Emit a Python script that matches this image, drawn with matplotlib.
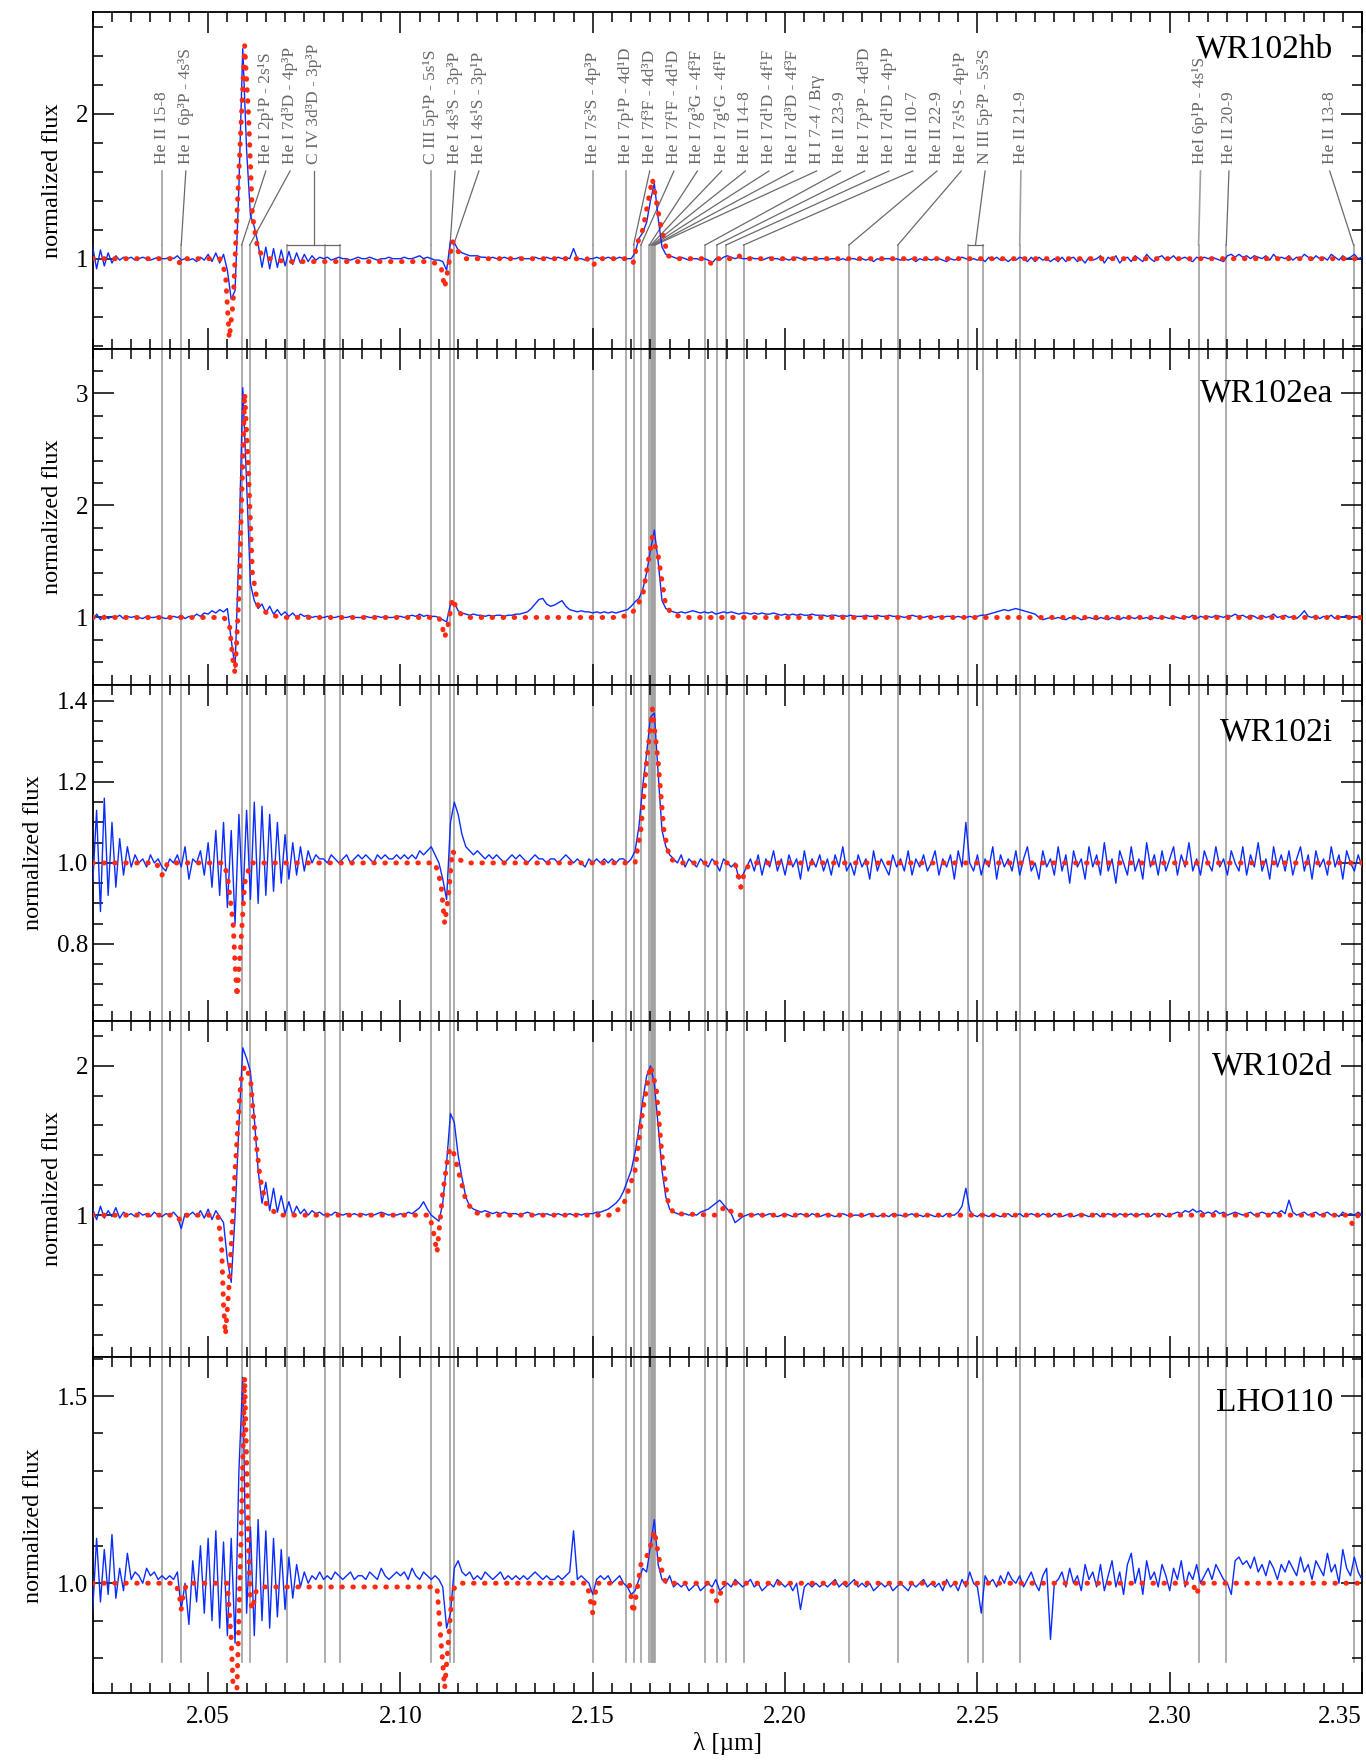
import numpy as np
import matplotlib
matplotlib.use('Agg')
import matplotlib.pyplot as plt
from matplotlib.ticker import MultipleLocator, FormatStrFormatter

plt.rcParams['font.family'] = ['Liberation Serif', 'DejaVu Serif']

# wavelength grid of the observed spectra (micron), 1 nm steps
WAVE = np.round(np.linspace(2.020, 2.350, 331), 3)

NAMES = ['WR102hb', 'WR102ea', 'WR102i', 'WR102d', 'LHO110']

# observed normalized flux (x100), one row per 0.01 micron
FLUX_HB = [
    108, 93, 106, 95, 104, 97, 102, 99, 101, 100,
    101, 99, 100, 101, 100, 99, 100, 101, 100, 100,
    101, 100, 102, 99, 100, 99, 100, 98, 101, 99,
    103, 98, 104, 97, 103, 92, 72, 78, 150, 245,
    175, 130, 122, 110, 94, 108, 93, 107, 94, 106,
    95, 105, 96, 104, 97, 103, 98, 102, 99, 101,
    100, 101, 99, 100, 101, 100, 100, 99, 100, 101,
    100, 100, 101, 100, 99, 100, 100, 101, 100, 100,
    100, 101, 100, 100, 101, 102, 100, 101, 100, 99,
    99, 98, 92, 112, 111, 106, 104, 103, 102, 102,
    102, 101, 101, 100, 101, 100, 100, 101, 100, 100,
    100, 101, 100, 100, 100, 101, 100, 100, 101, 100,
    100, 101, 100, 101, 100, 107, 100, 100, 99, 100,
    100, 101, 100, 100, 101, 100, 100, 101, 100, 100,
    100, 104, 114, 118, 125, 140, 152, 128, 108, 103,
    102, 101, 100, 101, 100, 99, 100, 100, 99, 100,
    99, 97, 100, 99, 101, 102, 101, 100, 101, 100,
    100, 101, 100, 100, 99, 100, 101, 100, 100, 99,
    100, 99, 100, 101, 100, 99, 100, 100, 99, 100,
    100, 99, 100, 100, 99, 100, 99, 100, 100, 99,
    100, 99, 100, 98, 100, 99, 100, 100, 99, 100,
    99, 100, 99, 100, 98, 100, 99, 100, 99, 100,
    100, 99, 98, 100, 99, 100, 101, 100, 99, 100,
    99, 100, 98, 101, 99, 101, 99, 100, 98, 100,
    99, 101, 100, 98, 101, 98, 101, 99, 100, 98,
    100, 98, 101, 98, 100, 101, 98, 100, 97, 101,
    99, 100, 102, 97, 101, 99, 102, 97, 100, 101,
    98, 102, 100, 98, 103, 100, 98, 101, 102, 99,
    100, 102, 99, 100, 101, 99, 98, 101, 100, 101,
    100, 101, 100, 99, 98, 102, 103, 101, 103, 101,
    102, 100, 102, 101, 100, 102, 99, 103, 100, 101,
    100, 102, 99, 101, 100, 103, 101, 99, 102, 100,
    101, 99, 103, 101, 99, 102, 100, 101, 103, 100,
    101]

FLUX_EA = [
    97, 103, 98, 102, 99, 101, 100, 102, 99, 101,
    100, 101, 100, 99, 101, 100, 100, 101, 100, 99,
    100, 101, 100, 102, 99, 101, 100, 103, 101, 104,
    103, 106, 104, 107, 105, 108, 80, 55, 160, 305,
    220, 130, 115, 108, 112, 104, 110, 103, 107, 102,
    105, 101, 104, 100, 103, 101, 102, 100, 101, 100,
    100, 101, 100, 100, 101, 100, 100, 101, 100, 100,
    100, 101, 100, 100, 101, 100, 101, 100, 100, 101,
    101, 100, 101, 102, 101, 103, 101, 102, 101, 101,
    100, 98, 96, 112, 113, 106, 104, 103, 102, 103,
    102, 102, 101, 102, 101, 102, 102, 101, 102, 102,
    103, 103, 104, 105, 108, 112, 116, 117, 112, 110,
    111, 113, 115, 110, 107, 106, 105, 106, 105, 105,
    104, 105, 104, 105, 104, 105, 104, 105, 106, 107,
    110, 114, 117, 125, 140, 160, 178, 150, 115, 108,
    106, 105, 104, 105, 104, 105, 106, 105, 104, 105,
    104, 105, 103, 104, 105, 104, 105, 104, 103, 104,
    104, 103, 104, 103, 104, 103, 103, 104, 103, 102,
    103, 102, 103, 102, 103, 102, 102, 103, 102, 102,
    102, 101, 102, 102, 101, 102, 101, 102, 101, 101,
    101, 102, 101, 101, 102, 101, 101, 102, 101, 101,
    101, 100, 101, 102, 101, 101, 100, 101, 101, 100,
    101, 100, 101, 101, 100, 101, 100, 100, 101, 100,
    101, 102, 102, 103, 104, 105, 106, 107, 106, 107,
    108, 107, 106, 105, 104, 103, 100, 98, 99, 100,
    99, 100, 99, 98, 100, 99, 100, 98, 99, 100,
    99, 98, 100, 99, 98, 100, 99, 98, 100, 99,
    100, 99, 101, 99, 100, 98, 100, 99, 101, 100,
    99, 101, 100, 99, 101, 100, 102, 99, 101, 100,
    101, 100, 102, 101, 100, 102, 101, 103, 101, 102,
    100, 102, 101, 99, 102, 100, 101, 103, 100, 101,
    102, 100, 101, 99, 102, 106, 101, 100, 102, 99,
    101, 100, 102, 99, 101, 100, 102, 99, 101, 100,
    100]

FLUX_I = [
    95, 113, 88, 116, 92, 110, 94, 106, 97, 104,
    99, 102, 100, 101, 99, 102, 100, 101, 99, 98,
    101, 100, 102, 99, 104, 96, 101, 100, 103, 97,
    105, 94, 108, 92, 110, 89, 108, 85, 112, 90,
    113, 91, 115, 90, 114, 92, 112, 93, 110, 95,
    107, 96, 105, 97, 104, 98, 103, 100, 102, 101,
    101, 100, 102, 101, 100, 101, 102, 100, 101, 102,
    101, 102, 101, 100, 102, 101, 102, 101, 101, 102,
    101, 102, 101, 102, 101, 103, 102, 103, 104, 102,
    100, 96, 91, 110, 115, 112, 107, 104, 103, 102,
    103, 102, 101, 102, 101, 102, 101, 100, 101, 102,
    101, 102, 101, 100, 101, 102, 101, 101, 100, 101,
    101, 100, 101, 102, 101, 100, 101, 100, 99, 101,
    100, 101, 100, 101, 100, 101, 100, 101, 101, 100,
    101, 103, 109, 119, 127, 136, 137, 122, 108, 104,
    102, 101, 100, 102, 99, 101, 100, 99, 101, 100,
    99, 101, 100, 98, 101, 100, 99, 100, 96, 97,
    99, 101, 98, 102, 97, 101, 99, 103, 98, 101,
    97, 102, 99, 101, 96, 103, 98, 101, 99, 102,
    98, 101, 97, 102, 99, 104, 98, 100, 97, 102,
    99, 101, 96, 103, 98, 101, 99, 97, 102, 99,
    101, 98, 103, 97, 101, 99, 102, 98, 100, 103,
    97, 101, 99, 102, 96, 103, 99, 110, 100, 98,
    102, 97, 101, 99, 104, 96, 102, 99, 101, 98,
    103, 97, 101, 104, 98, 100, 96, 103, 99, 101,
    97, 104, 98, 102, 95, 103, 99, 101, 96, 104,
    99, 102, 97, 105, 98, 101, 95, 103, 100, 97,
    104, 98, 101, 96, 105, 99, 102, 97, 103, 98,
    101, 104, 97, 102, 99, 105, 98, 101, 97, 103,
    100, 98, 104, 99, 101, 97, 103, 100, 98, 104,
    97, 102, 99, 105, 98, 101, 96, 104, 99, 102,
    98, 103, 97, 101, 104, 98, 102, 96, 103, 99,
    101, 97, 104, 99, 102, 96, 103, 100, 98, 102,
    99]

FLUX_D = [
    104, 97, 106, 98, 103, 99, 105, 98, 102, 100,
    101, 99, 102, 100, 101, 99, 102, 100, 99, 101,
    100, 102, 99, 91, 101, 100, 102, 99, 103, 98,
    104, 97, 103, 99, 95, 70, 55, 100, 160, 212,
    205, 196, 165, 130, 108, 122, 103, 118, 102, 113,
    101, 109, 100, 106, 101, 104, 100, 103, 101, 102,
    100, 101, 100, 102, 101, 100, 101, 100, 101, 100,
    101, 100, 101, 100, 101, 102, 101, 100, 101, 100,
    101, 100, 102, 101, 103, 105, 109, 104, 100, 98,
    96, 108, 135, 168, 162, 140, 125, 112, 106, 104,
    103, 102, 103, 102, 101, 102, 101, 102, 101, 101,
    101, 100, 101, 102, 101, 100, 101, 100, 101, 100,
    100, 101, 100, 100, 101, 100, 101, 100, 101, 101,
    101, 102, 102, 103, 104, 106, 108, 111, 116, 123,
    130, 142, 158, 177, 193, 200, 188, 160, 130, 112,
    104, 102, 101, 100, 101, 100, 101, 100, 102, 103,
    104, 106, 108, 110, 107, 104, 101, 95, 97, 99,
    100, 101, 100, 101, 99, 100, 101, 100, 99, 100,
    101, 100, 99, 100, 101, 100, 99, 101, 100, 99,
    100, 101, 100, 99, 100, 101, 100, 99, 100, 100,
    99, 100, 101, 100, 99, 100, 100, 99, 101, 100,
    100, 99, 100, 101, 99, 100, 99, 101, 100, 99,
    100, 99, 101, 100, 100, 102, 106, 118, 103, 100,
    99, 101, 100, 99, 101, 100, 99, 100, 101, 99,
    100, 101, 99, 100, 101, 100, 99, 101, 100, 99,
    101, 100, 99, 100, 101, 99, 100, 101, 100, 99,
    100, 101, 99, 100, 101, 100, 99, 101, 100, 100,
    101, 99, 100, 101, 100, 99, 101, 100, 101, 99,
    100, 101, 102, 101, 103, 102, 104, 102, 103, 101,
    102, 101, 103, 101, 102, 100, 101, 102, 101, 100,
    101, 102, 100, 101, 102, 101, 100, 102, 101, 103,
    101, 110, 102, 100, 101, 102, 100, 101, 102, 100,
    101, 102, 100, 101, 99, 102, 100, 101, 100, 102,
    100]

FLUX_LHO = [
    93, 112, 95, 109, 97, 113, 96, 104, 98, 108,
    101, 103, 102, 100, 104, 102, 103, 101, 102, 101,
    102, 101, 103, 93, 100, 89, 106, 95, 110, 92,
    112, 90, 114, 88, 111, 86, 112, 84, 130, 155,
    92, 115, 86, 117, 90, 114, 88, 112, 91, 109,
    93, 107, 96, 105, 99, 103, 100, 102, 101, 103,
    101, 102, 101, 103, 102, 101, 102, 103, 101, 102,
    102, 101, 103, 102, 101, 104, 102, 101, 102, 103,
    102, 103, 101, 104, 102, 101, 103, 102, 101, 102,
    101, 99, 88, 92, 104, 106, 103, 102, 103, 101,
    102, 101, 103, 102, 101, 102, 103, 101, 102, 101,
    102, 101, 102, 101, 102, 103, 102, 101, 102, 101,
    101, 102, 101, 102, 103, 114, 101, 102, 101, 100,
    97, 101, 102, 101, 102, 100, 101, 102, 100, 99,
    97, 98, 101, 104, 103, 110, 117, 105, 101, 100,
    102, 99, 100, 99, 100, 98, 99, 100, 98, 99,
    100, 99, 101, 98, 99, 100, 99, 101, 100, 99,
    100, 101, 99, 100, 98, 99, 100, 99, 101, 100,
    99, 100, 98, 100, 93, 99, 100, 99, 100, 99,
    100, 99, 100, 101, 99, 100, 99, 100, 101, 99,
    100, 99, 100, 98, 99, 100, 99, 100, 98, 99,
    100, 99, 98, 100, 99, 100, 101, 99, 100, 99,
    100, 98, 101, 99, 100, 98, 101, 99, 103, 100,
    99, 92, 102, 100, 101, 99, 102, 100, 103, 101,
    100, 102, 99, 101, 103, 100, 98, 102, 104, 85,
    100, 101, 103, 99, 104, 100, 102, 98, 105, 101,
    103, 99, 105, 98, 102, 106, 99, 103, 97, 105,
    108, 100, 104, 97, 106, 101, 103, 99, 105, 102,
    98, 104, 101, 106, 99, 103, 101, 105, 100, 102,
    104, 101, 105, 103, 101, 100, 97, 106, 107, 105,
    106, 104, 107, 103, 105, 102, 106, 104, 101, 105,
    103, 106, 104, 102, 107, 103, 105, 101, 106, 104,
    102, 108, 103, 105, 100, 109, 104, 102, 107, 103,
    101]

# model spectra (wavelength, normalized flux)
MODEL_HB_W = [2.020, 2.0415, 2.043, 2.0445, 2.053, 2.0545, 2.0555, 2.0565, 2.058, 2.0595,
              2.0605, 2.0615, 2.063, 2.066, 2.070, 2.108, 2.1105, 2.1115, 2.1125, 2.1135,
              2.115, 2.117, 2.1485, 2.150, 2.1515, 2.159, 2.1605, 2.1615, 2.163, 2.1655,
              2.1675, 2.1695, 2.172, 2.1795, 2.181, 2.1825, 2.187, 2.188, 2.189, 2.350]
MODEL_HB_F = [1.0, 1.0, 0.96, 1.0, 1.0, 0.9, 0.45, 0.7, 1.6, 2.47,
              2.0, 1.3, 1.05, 1.0, 0.98, 0.98, 0.95, 0.80, 0.95, 1.12,
              1.05, 1.0, 1.0, 0.95, 1.0, 1.0, 0.97, 1.1, 1.2, 1.55,
              1.25, 1.02, 1.0, 1.0, 0.96, 1.0, 1.0, 1.02, 1.0, 1.0]

MODEL_EA_W = [2.020, 2.054, 2.0555, 2.0565, 2.057, 2.058, 2.0595, 2.0605, 2.0615, 2.063,
              2.066, 2.070, 2.110, 2.111, 2.1115, 2.1125, 2.1135, 2.115, 2.117, 2.157,
              2.160, 2.1615, 2.163, 2.1655, 2.167, 2.169, 2.171, 2.175, 2.350]
MODEL_EA_F = [1.0, 1.0, 0.95, 0.6, 0.5, 1.2, 3.0, 2.3, 1.4, 1.1,
              1.02, 1.0, 1.0, 0.9, 0.82, 0.95, 1.17, 1.05, 1.0, 1.0,
              1.03, 1.1, 1.2, 1.72, 1.55, 1.1, 1.02, 1.0, 1.0]

MODEL_I_W = [2.020, 2.0365, 2.038, 2.0395, 2.054, 2.055, 2.0565, 2.057, 2.0575, 2.0585,
             2.0595, 2.061, 2.109, 2.1105, 2.1115, 2.1125, 2.1135, 2.115, 2.117, 2.161,
             2.1625, 2.164, 2.1655, 2.167, 2.1685, 2.170, 2.1725, 2.187, 2.1885, 2.1895,
             2.191, 2.350]
MODEL_I_F = [1.0, 1.0, 0.97, 1.0, 1.0, 0.97, 0.85, 0.75, 0.67, 0.8,
             0.95, 1.0, 1.0, 0.95, 0.85, 0.92, 1.03, 1.01, 1.0, 1.0,
             1.08, 1.25, 1.38, 1.25, 1.08, 1.01, 1.0, 1.0, 0.94, 0.98,
             1.0, 1.0]

MODEL_D_W = [2.020, 2.0415, 2.043, 2.0445, 2.0525, 2.0535, 2.054, 2.0545, 2.0555, 2.057,
             2.0585, 2.0595, 2.061, 2.062, 2.0635, 2.065, 2.068, 2.1075, 2.1085, 2.1095,
             2.111, 2.1125, 2.1135, 2.115, 2.117, 2.119, 2.122, 2.155, 2.158, 2.161,
             2.163, 2.165, 2.1665, 2.168, 2.1695, 2.171, 2.182, 2.1845, 2.187, 2.346,
             2.3475, 2.349, 2.350]
MODEL_D_F = [1.0, 1.0, 0.96, 1.0, 1.0, 0.8, 0.4, 0.2, 0.55, 1.3,
             1.9, 2.0, 1.92, 1.6, 1.25, 1.08, 1.0, 1.0, 0.9, 0.75,
             1.15, 1.42, 1.45, 1.3, 1.1, 1.02, 1.0, 1.0, 1.07, 1.3,
             1.7, 2.0, 1.85, 1.4, 1.1, 1.01, 1.0, 1.06, 1.0, 1.0,
             0.94, 1.0, 1.0]

MODEL_LHO_W = [2.020, 2.0415, 2.0425, 2.043, 2.0435, 2.0445, 2.055, 2.056, 2.0565, 2.0575,
               2.0585, 2.0595, 2.0605, 2.061, 2.0615, 2.0625, 2.064, 2.070, 2.1095, 2.1105,
               2.1115, 2.1125, 2.1135, 2.115, 2.1485, 2.150, 2.151, 2.1595, 2.1605, 2.1615,
               2.1625, 2.1645, 2.166, 2.1675, 2.169, 2.1805, 2.1815, 2.1825, 2.184, 2.306,
               2.307, 2.308, 2.350]
MODEL_LHO_F = [1.0, 1.0, 0.97, 0.93, 0.97, 1.0, 1.0, 0.85, 0.72, 0.72,
               1.1, 1.55, 1.1, 0.95, 0.93, 0.98, 0.99, 0.99, 0.99, 0.85,
               0.72, 0.85, 0.98, 1.0, 1.0, 0.92, 1.0, 1.0, 0.92, 0.98,
               1.05, 1.08, 1.14, 1.05, 1.0, 1.0, 0.96, 0.95, 1.0, 1.0,
               0.97, 1.0, 1.0]

OBSERVED = [FLUX_HB, FLUX_EA, FLUX_I, FLUX_D, FLUX_LHO]
MODELS = [(MODEL_HB_W, MODEL_HB_F), (MODEL_EA_W, MODEL_EA_F), (MODEL_I_W, MODEL_I_F),
          (MODEL_D_W, MODEL_D_F), (MODEL_LHO_W, MODEL_LHO_F)]

# line identifications: label, rest wavelength(s), label position
LINE_NAMES = ['He II 15-8', 'He I  6p\u00b3P - 4s\u00b3S', 'He I 2p\u00b9P - 2s\u00b9S',
              'He I 7d\u00b3D - 4p\u00b3P', 'C IV 3d\u00b3D - 3p\u00b3P',
              'C III 5p\u00b9P - 5s\u00b9S', 'He I 4s\u00b3S - 3p\u00b3P',
              'He I 4s\u00b9S - 3p\u00b9P', 'He I 7s\u00b3S - 4p\u00b3P',
              'He I 7p\u00b9P - 4d\u00b9D', 'He I 7f\u00b3F - 4d\u00b3D',
              'He I 7f\u00b9F - 4d\u00b9D', 'He I 7g\u00b3G - 4f\u00b3F',
              'He I 7g\u00b9G - 4f\u00b9F', 'He II 14-8', 'He I 7d\u00b9D - 4f\u00b9F',
              'He I 7d\u00b3D - 4f\u00b3F', 'H I 7-4 / Br\u03b3', 'He II 23-9',
              'He I 7p\u00b3P - 4d\u00b3D', 'He I 7d\u00b9D - 4p\u00b9P', 'He II 10-7',
              'He II 22-9', 'He I 7s\u00b9S - 4p\u00b9P', 'N III 5p\u00b2P - 5s\u00b2S',
              'He II 21-9', 'HeI 6p\u00b9P - 4s\u00b9S', 'He II 20-9', 'He II 13-8']
LINE_WAVES = [[2.0380], [2.0430], [2.0587], [2.0608], [2.0705, 2.0803, 2.0843],
              [2.1080], [2.1129], [2.1138], [2.1500], [2.1587], [2.1606], [2.1625],
              [2.1647], [2.1651], [2.1654], [2.1657], [2.1660], [2.1662], [2.1792],
              [2.1822], [2.1846], [2.1892], [2.2166], [2.2293], [2.2475, 2.2515],
              [2.2610], [2.3075], [2.3147], [2.3478]]
LABEL_WAVES = [2.0380, 2.0442, 2.0650, 2.0713, 2.0774, 2.1080, 2.1142, 2.1204, 2.1500,
               2.1587, 2.1648, 2.1711, 2.1772, 2.1835, 2.1897, 2.1958, 2.2021, 2.2082,
               2.2144, 2.2207, 2.2270, 2.2332, 2.2395, 2.2458, 2.2520, 2.2613, 2.3080,
               2.3154, 2.3416]

YLIMS = [(0.38, 2.70), (0.40, 3.40), (0.61, 1.44), (0.05, 2.30), (0.706, 1.604)]
YMAJOR = [1.0, 1.0, 0.2, 1.0, 0.5]
YMINOR = [0.2, 0.2, 0.05, 0.2, 0.1]
YFMT = ['%d', '%d', '%.1f', '%d', '%.1f']
NAME_Y = [0.89, 0.868, 0.86, 0.866, 0.863]

XTICKS = [2.05, 2.10, 2.15, 2.20, 2.25, 2.30, 2.35]

GREY = '#a0a0a0'
DARK = '#6a6a6a'
BLUE = '#0a2cff'
RED = '#ff2a10'
KINK = 1.094
LEAD_TOP = 1.605

fig, axes = plt.subplots(5, 1, figsize=(13.66, 17.6), dpi=100, sharex=True,
                         gridspec_kw=dict(hspace=0))
fig.subplots_adjust(left=0.0679, right=0.9971, top=0.993, bottom=0.0379)

all_waves = [w for ws in LINE_WAVES for w in ws]

for k, ax in enumerate(axes):
    ax.set_xlim(2.02, 2.35)
    ax.set_ylim(*YLIMS[k])
    ax.plot(WAVE, np.array(OBSERVED[k]) / 100.0, color=BLUE, lw=1.0, zorder=3)
    mw, mf = MODELS[k]
    ax.plot(mw, mf, color=RED, lw=3.6, linestyle=(0, (0.1, 2.1)),
            dash_capstyle='round', zorder=4)

    y0, y1 = YLIMS[k]
    for w in all_waves:
        if k == 0:
            ax.axvline(w, ymin=0, ymax=(KINK - y0) / (y1 - y0), color=GREY, lw=1.2, zorder=1)
        elif k == 4:
            ax.axvline(w, ymin=0.093, ymax=1, color=GREY, lw=1.2, zorder=1)
        else:
            ax.axvline(w, color=GREY, lw=1.2, zorder=1)

    ax.text(0.977, NAME_Y[k], NAMES[k], transform=ax.transAxes, ha='right',
            va='center', fontsize=24)
    ax.set_ylabel('normalized flux', fontsize=17.5, labelpad=9)

    ax.yaxis.set_major_locator(MultipleLocator(YMAJOR[k]))
    ax.yaxis.set_minor_locator(MultipleLocator(YMINOR[k]))
    ax.yaxis.set_major_formatter(FormatStrFormatter(YFMT[k]))
    ax.xaxis.set_minor_locator(MultipleLocator(0.005))
    ax.tick_params(which='both', direction='in', top=True, right=True, width=1.1,
                   labelsize=18)
    ax.tick_params(which='major', length=15)
    ax.tick_params(which='minor', length=7)
    ax.tick_params(axis='x', which='major', pad=9)
    for sp in ax.spines.values():
        sp.set_linewidth(1.3)

# line labels and leader lines in the top panel
top = axes[0]
for name, waves, lx in zip(LINE_NAMES, LINE_WAVES, LABEL_WAVES):
    if len(waves) > 1:
        top.plot([min(waves), max(waves)], [KINK, KINK], color=DARK, lw=0.9, zorder=2)
        kx = 0.5 * (min(waves) + max(waves))
    else:
        kx = waves[0]
    straight = abs(kx - lx) < 0.0005 and len(waves) == 1
    top.plot([kx, lx], [KINK, LEAD_TOP], color=GREY if straight else DARK,
             lw=1.2 if straight else 0.9, zorder=2)
    top.text(lx, LEAD_TOP + 0.05, name, rotation=90, ha='center', va='bottom',
             fontsize=12.5, color='#686868')

bottom = axes[-1]
bottom.set_xticks(XTICKS)
labels = bottom.set_xticklabels(['%.2f' % t for t in XTICKS])
labels[-1].set_ha('right')
bottom.set_xlabel('\u03bb [\u00b5m]', fontsize=18, labelpad=3)

fig.savefig('out.png', dpi=100)
